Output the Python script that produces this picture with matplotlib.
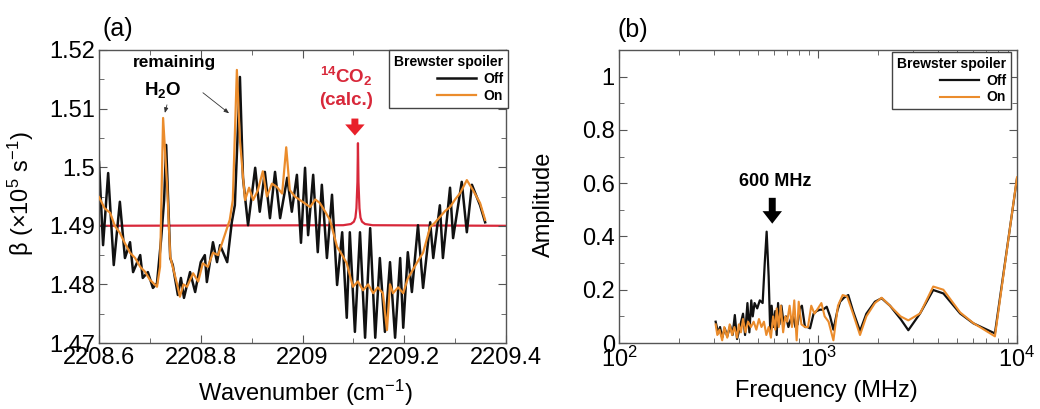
import numpy as np
import matplotlib
matplotlib.use("Agg")
import matplotlib.pyplot as plt
from matplotlib.ticker import MultipleLocator, FuncFormatter

plt.rcParams['font.family'] = ['Liberation Sans', 'DejaVu Sans']
plt.rcParams['mathtext.fontset'] = 'custom'
plt.rcParams['mathtext.rm'] = 'Liberation Sans'
plt.rcParams['mathtext.it'] = 'Liberation Sans:italic'
plt.rcParams['mathtext.bf'] = 'Liberation Sans:bold'

# (a) absorption spectrum, spoiler off (black)
wn_off = [2208.600, 2208.608, 2208.618, 2208.629, 2208.641, 2208.651, 2208.661, 2208.667,
          2208.681, 2208.686, 2208.696, 2208.706, 2208.714, 2208.722, 2208.728, 2208.732,
          2208.740, 2208.745, 2208.755, 2208.761, 2208.767, 2208.779, 2208.789, 2208.800,
          2208.808, 2208.812, 2208.824, 2208.832, 2208.838, 2208.852, 2208.861, 2208.867,
          2208.877, 2208.883, 2208.893, 2208.907, 2208.916, 2208.926, 2208.936, 2208.946,
          2208.956, 2208.970, 2208.979, 2208.989, 2208.997, 2209.005, 2209.011, 2209.021,
          2209.030, 2209.038, 2209.048, 2209.058, 2209.068, 2209.078, 2209.087, 2209.093,
          2209.103, 2209.113, 2209.123, 2209.133, 2209.143, 2209.152, 2209.162, 2209.172,
          2209.182, 2209.192, 2209.198, 2209.207, 2209.215, 2209.227, 2209.237, 2209.251,
          2209.257, 2209.270, 2209.276, 2209.290, 2209.296, 2209.313, 2209.323, 2209.333,
          2209.349, 2209.359]
beta_off = [1.5009, 1.4867, 1.4990, 1.4833, 1.4941, 1.4845, 1.4872, 1.4821,
            1.4850, 1.4811, 1.4821, 1.4794, 1.4802, 1.4876, 1.4944, 1.5038,
            1.4845, 1.4833, 1.4782, 1.4811, 1.4777, 1.4821, 1.4787, 1.4838,
            1.4850, 1.4804, 1.4872, 1.4838, 1.4867, 1.4838, 1.4906, 1.4935,
            1.5154, 1.4982, 1.4901, 1.4999, 1.4924, 1.4992, 1.4913, 1.4992,
            1.4913, 1.4982, 1.4924, 1.4987, 1.4871, 1.4999, 1.4884, 1.4987,
            1.4855, 1.4970, 1.4845, 1.4953, 1.4799, 1.4889, 1.4743, 1.4889,
            1.4719, 1.4889, 1.4709, 1.4896, 1.4709, 1.4845, 1.4719, 1.4838,
            1.4709, 1.4845, 1.4726, 1.4855, 1.4787, 1.4901, 1.4794, 1.4906,
            1.4845, 1.4935, 1.4845, 1.4965, 1.4879, 1.4975, 1.4889, 1.4970,
            1.4935, 1.4906]

# (a) spoiler on (orange)
wn_on = [2208.600, 2208.611, 2208.622, 2208.631, 2208.641, 2208.651, 2208.661, 2208.671,
         2208.681, 2208.690, 2208.700, 2208.714, 2208.720, 2208.726, 2208.734, 2208.740,
         2208.753, 2208.759, 2208.766, 2208.773, 2208.785, 2208.795, 2208.804, 2208.814,
         2208.824, 2208.834, 2208.844, 2208.857, 2208.863, 2208.871, 2208.877, 2208.887,
         2208.895, 2208.903, 2208.912, 2208.922, 2208.930, 2208.940, 2208.950, 2208.960,
         2208.968, 2208.975, 2208.985, 2208.995, 2209.005, 2209.015, 2209.025, 2209.034,
         2209.044, 2209.054, 2209.068, 2209.078, 2209.087, 2209.099, 2209.109, 2209.119,
         2209.129, 2209.139, 2209.148, 2209.158, 2209.166, 2209.172, 2209.178, 2209.188,
         2209.198, 2209.207, 2209.217, 2209.227, 2209.237, 2209.251, 2209.260, 2209.270,
         2209.280, 2209.290, 2209.300, 2209.310, 2209.323, 2209.335, 2209.349, 2209.359]
beta_on = [1.4949, 1.4930, 1.4922, 1.4900, 1.4888, 1.4870, 1.4854, 1.4845,
           1.4830, 1.4822, 1.4808, 1.4796, 1.4830, 1.5084, 1.4966, 1.4847,
           1.4802, 1.4779, 1.4800, 1.4796, 1.4819, 1.4805, 1.4836, 1.4830,
           1.4854, 1.4850, 1.4876, 1.4910, 1.4944, 1.5166, 1.5046, 1.4944,
           1.4965, 1.4944, 1.4960, 1.4993, 1.4950, 1.4972, 1.4966, 1.4955,
           1.5034, 1.4961, 1.4950, 1.4944, 1.4938, 1.4932, 1.4945, 1.4939,
           1.4925, 1.4910, 1.4864, 1.4850, 1.4836, 1.4796, 1.4805, 1.4790,
           1.4800, 1.4785, 1.4795, 1.4785, 1.4722, 1.4800, 1.4785, 1.4795,
           1.4785, 1.4810, 1.4825, 1.4840, 1.4854, 1.4898, 1.4905, 1.4915,
           1.4925, 1.4932, 1.4945, 1.4956, 1.4978, 1.4961, 1.4939, 1.4910]

# (a) calculated 14CO2 line (red)
wn_calc = [2208.600, 2209.080, 2209.095, 2209.101, 2209.104, 2209.106, 2209.108, 2209.109,
           2209.110, 2209.112, 2209.114, 2209.117, 2209.123, 2209.138, 2209.400]
beta_calc = [1.4900, 1.4901, 1.4903, 1.4907, 1.4914, 1.4930, 1.4975, 1.5041,
             1.4975, 1.4930, 1.4914, 1.4907, 1.4903, 1.4901, 1.4900]

# (b) Fourier amplitude
freq_off = [306, 315, 322, 330, 340, 350, 362, 372, 382, 392, 405, 420, 430, 442, 452,
            462, 470, 480, 495, 510, 527, 540, 552, 565, 575, 585, 597, 610, 620, 630,
            640, 655, 670, 690, 710, 730, 750, 770, 790, 810, 830, 860, 885, 912, 950,
            985, 1023, 1060, 1106, 1150, 1195, 1250, 1292, 1350, 1419, 1500, 1626, 1750,
            1932, 2089, 2300, 2600, 2844, 3258, 3793, 4266, 5176, 6030, 7745, 10000]
amp_off = [0.080, 0.036, 0.060, 0.020, 0.055, 0.025, 0.065, 0.030, 0.105, 0.015, 0.060,
           0.110, 0.030, 0.150, 0.040, 0.160, 0.100, 0.150, 0.130, 0.160, 0.150, 0.300,
           0.418, 0.250, 0.050, 0.140, 0.060, 0.120, 0.030, 0.150, 0.070, 0.140, 0.080,
           0.100, 0.060, 0.090, 0.100, 0.060, 0.070, 0.130, 0.140, 0.060, 0.060, 0.055,
           0.110, 0.120, 0.125, 0.125, 0.136, 0.100, 0.050, 0.120, 0.155, 0.170, 0.180,
           0.120, 0.045, 0.110, 0.155, 0.168, 0.140, 0.090, 0.048, 0.111, 0.199, 0.186,
           0.111, 0.074, 0.036, 0.618]

freq_on = [306, 312, 320, 330, 338, 350, 360, 370, 380, 392, 400, 410, 420, 432, 445,
           460, 475, 490, 505, 520, 535, 550, 565, 580, 595, 610, 620, 635, 650, 668,
           685, 700, 720, 740, 760, 781, 800, 825, 860, 890, 925, 960, 1000, 1040, 1080,
           1130, 1195, 1260, 1330, 1400, 1500, 1626, 1750, 1932, 2089, 2300, 2600, 2844,
           3258, 3793, 4266, 5176, 6030, 7745, 10000]
amp_on = [0.070, 0.030, 0.050, 0.010, 0.060, 0.020, 0.070, 0.030, 0.060, 0.020, 0.070,
          0.040, 0.090, 0.040, 0.080, 0.060, 0.080, 0.050, 0.090, 0.060, 0.080, 0.030,
          0.060, 0.020, 0.100, 0.050, 0.130, 0.060, 0.140, 0.040, 0.100, 0.080, 0.140,
          0.060, 0.160, 0.010, 0.155, 0.070, 0.060, 0.060, 0.140, 0.110, 0.130, 0.150,
          0.100, 0.080, 0.010, 0.140, 0.180, 0.175, 0.110, 0.030, 0.100, 0.150, 0.170,
          0.140, 0.100, 0.085, 0.111, 0.212, 0.200, 0.115, 0.075, 0.025, 0.622]

black = '#111111'
orange = '#eb8c2c'
red = '#d8283a'
frame = '#555555'

fig = plt.figure(figsize=(10.4, 4.09), dpi=100)
ax1 = fig.add_axes([99/1040, 66/409, 407/1040, 293/409])
ax2 = fig.add_axes([619/1040, 66/409, 398/1040, 293/409])

fmt = FuncFormatter(lambda v, p: '%g' % round(v, 4))

# ---- panel (a)
ax1.plot(wn_calc, beta_calc, color=red, lw=1.6, zorder=1)
ax1.plot(wn_off, beta_off, color=black, lw=1.8, label='Off', zorder=2)
ax1.plot(wn_on, beta_on, color=orange, lw=1.6, label='On', zorder=3)
ax1.set_xlim(2208.6, 2209.4)
ax1.set_ylim(1.47, 1.52)
ax1.xaxis.set_major_locator(MultipleLocator(0.2))
ax1.xaxis.set_minor_locator(MultipleLocator(0.1))
ax1.yaxis.set_major_locator(MultipleLocator(0.01))
ax1.yaxis.set_minor_locator(MultipleLocator(0.005))
ax1.xaxis.set_major_formatter(fmt)
ax1.yaxis.set_major_formatter(fmt)
ax1.set_xlabel('Wavenumber (cm$^{-1}$)', fontsize=17)
ax1.set_ylabel('β (×10$^5$ s$^{-1}$)', fontsize=17)
ax1.xaxis.set_label_coords(0.506, -0.118)
ax1.yaxis.set_label_coords(-0.155, 0.51)

ax1.text(2208.749, 1.5178, 'remaining', fontsize=12.5, fontweight='bold', ha='center', va='center')
ax1.text(2208.726, 1.5132, 'H$_\\mathbf{2}$O', fontsize=13.5, fontweight='bold', ha='center', va='center')
ax1.annotate('', xy=(2208.728, 1.5088), xytext=(2208.735, 1.5111),
             arrowprops=dict(arrowstyle='-|>,head_length=0.3,head_width=0.12', color='#333333', lw=0.6))
ax1.annotate('', xy=(2208.860, 1.5089), xytext=(2208.800, 1.5130),
             arrowprops=dict(arrowstyle='-|>,head_length=0.3,head_width=0.12', color='#333333', lw=0.6))
ax1.text(2209.085, 1.5155, '$^{\\mathbf{14}}$CO$_\\mathbf{2}$', color=red, fontsize=13.5,
         fontweight='bold', ha='center', va='center')
ax1.text(2209.086, 1.5114, '(calc.)', color=red, fontsize=13.5, fontweight='bold',
         ha='center', va='center')
ax1.annotate('', xy=(2209.103, 1.5054), xytext=(2209.103, 1.5083),
             arrowprops=dict(facecolor='#e8202a', edgecolor='none', width=5, headwidth=14, headlength=8))

# ---- panel (b)
ax2.plot(freq_off, amp_off, color=black, lw=1.6, label='Off', zorder=2)
ax2.plot(freq_on, amp_on, color=orange, lw=1.5, label='On', zorder=3)
ax2.set_xscale('log')
ax2.set_xlim(100, 10000)
ax2.set_ylim(0, 1.1)
ax2.yaxis.set_major_locator(MultipleLocator(0.2))
ax2.yaxis.set_minor_locator(MultipleLocator(0.1))
ax2.yaxis.set_major_formatter(fmt)
ax2.set_xlabel('Frequency (MHz)', fontsize=17)
ax2.set_ylabel('Amplitude', fontsize=17)
ax2.xaxis.set_label_coords(0.52, -0.125)
ax2.yaxis.set_label_coords(-0.16, 0.474)
ax2.text(608, 0.608, '600 MHz', fontsize=13, fontweight='bold', ha='center', va='center')
ax2.annotate('', xy=(589, 0.448), xytext=(589, 0.545),
             arrowprops=dict(facecolor='black', edgecolor='none', width=5, headwidth=14, headlength=9))

for ax in (ax1, ax2):
    for s in ax.spines.values():
        s.set_color(frame)
        s.set_linewidth(1.0)
    ax.tick_params(which='both', direction='in', top=True, right=True, color=frame)
    ax.tick_params(which='major', length=6, labelsize=17, pad=3)
    ax.tick_params(which='minor', length=3.5)

for ax, anchor in ((ax1, (1.022, 1.022)), (ax2, (1.003, 1.017))):
    leg = ax.legend(title='Brewster spoiler', loc='upper right', bbox_to_anchor=anchor,
                    fontsize=10, title_fontproperties={'weight': 'bold', 'size': 10},
                    prop={'weight': 'bold', 'size': 10}, handlelength=2.8, handletextpad=0.5,
                    borderpad=0.35, labelspacing=0.2, fancybox=False, shadow=False,
                    framealpha=1, edgecolor='#444444', markerfirst=True)
    leg.get_frame().set_linewidth(1.0)
    leg._legend_box.align = 'right'

fig.text(118/1040, 1 - 29/409, '(a)', fontsize=18, ha='center', va='center')
fig.text(633/1040, 1 - 30/409, '(b)', fontsize=18, ha='center', va='center')

fig.savefig('out.png', dpi=100)
